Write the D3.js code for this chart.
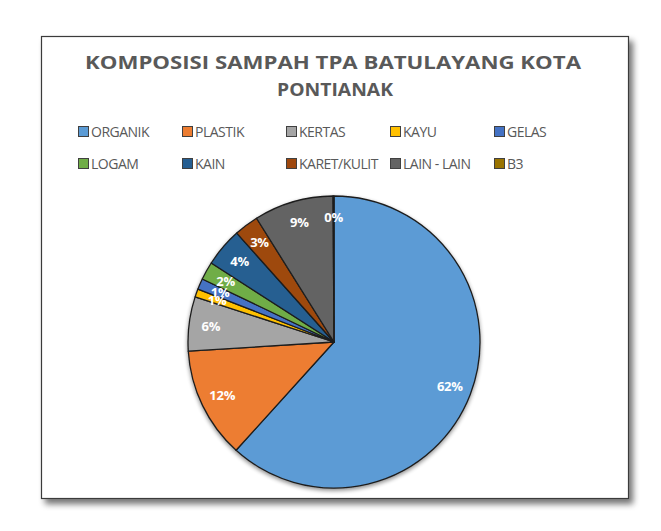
<!DOCTYPE html>
<html>
<head>
<meta charset="utf-8">
<script src="https://cdn.jsdelivr.net/npm/d3@7"></script>
<style>
  html, body { margin: 0; padding: 0; background: #ffffff; }
  svg { display: block; }
</style>
</head>
<body>
<script>
// ---- data ----
const categories = ["ORGANIK", "PLASTIK", "KERTAS", "KAYU", "GELAS", "LOGAM", "KAIN", "KARET/KULIT", "LAIN - LAIN", "B3"];
const values = [61.7, 12.3, 6.0, 0.9, 1.2, 2.0, 4.3, 2.7, 8.8, 0.1];
const colors = ["#5B9BD5", "#ED7D31", "#A5A5A5", "#FFC000", "#4472C4", "#70AD47", "#255E91", "#9E480E", "#636363", "#997300"];
const titleLines = ["KOMPOSISI SAMPAH TPA BATULAYANG KOTA", "PONTIANAK"];

// ---- layout ----
const W = 661, H = 531;
const svg = d3.select("body").append("svg").attr("width", W).attr("height", H);
const defs = svg.append("defs");

// frame shadow
const fs = defs.append("filter").attr("id", "frameShadow").attr("x", "-5%").attr("y", "-5%").attr("width", "115%").attr("height", "115%");
fs.append("feGaussianBlur").attr("in", "SourceAlpha").attr("stdDeviation", 3).attr("result", "b");
fs.append("feOffset").attr("in", "b").attr("dx", 4).attr("dy", 5).attr("result", "o");
fs.append("feComponentTransfer").attr("in", "o").attr("result", "o2")
  .append("feFuncA").attr("type", "linear").attr("slope", 0.55);
const fm = fs.append("feMerge");
fm.append("feMergeNode").attr("in", "o2");
fm.append("feMergeNode").attr("in", "SourceGraphic");

// pie shadow
const ps = defs.append("filter").attr("id", "pieShadow").attr("x", "-10%").attr("y", "-10%").attr("width", "125%").attr("height", "125%");
ps.append("feGaussianBlur").attr("in", "SourceAlpha").attr("stdDeviation", 2).attr("result", "b");
ps.append("feOffset").attr("in", "b").attr("dx", 0).attr("dy", 2).attr("result", "o");
ps.append("feComponentTransfer").attr("in", "o").attr("result", "o2")
  .append("feFuncA").attr("type", "linear").attr("slope", 0.45);
const pm = ps.append("feMerge");
pm.append("feMergeNode").attr("in", "o2");
pm.append("feMergeNode").attr("in", "SourceGraphic");

// frame
svg.append("rect")
  .attr("x", 41.5).attr("y", 36.5).attr("width", 587).attr("height", 462)
  .attr("fill", "#ffffff").attr("stroke", "#3a3a3a").attr("stroke-width", 1.2)
  .attr("filter", "url(#frameShadow)");

// title
const titleFont = "'Open Sans', 'Liberation Sans', sans-serif";
svg.append("text")
  .attr("x", 333).attr("y", 69)
  .attr("text-anchor", "middle")
  .attr("font-family", titleFont).attr("font-weight", "bold").attr("font-size", 18.5)
  .attr("fill", "#595959")
  .attr("textLength", 496).attr("lengthAdjust", "spacingAndGlyphs")
  .text(titleLines[0]);
svg.append("text")
  .attr("x", 335).attr("y", 96)
  .attr("text-anchor", "middle")
  .attr("font-family", titleFont).attr("font-weight", "bold").attr("font-size", 18.5)
  .attr("fill", "#595959")
  .attr("textLength", 116).attr("lengthAdjust", "spacingAndGlyphs")
  .text(titleLines[1]);

// legend
const legCols = 5, legX0 = 78, legDX = 104, legY0 = 132, legDY = 32;
const leg = svg.append("g");
categories.forEach((c, i) => {
  const col = i % legCols, row = Math.floor(i / legCols);
  const x = legX0 + col * legDX, y = legY0 + row * legDY;
  leg.append("rect")
    .attr("x", x + 0.5).attr("y", y - 5.5).attr("width", 10).attr("height", 10)
    .attr("fill", colors[i]).attr("stroke", "#404040").attr("stroke-width", 1);
  leg.append("text")
    .attr("x", x + 13).attr("y", y + 5)
    .attr("font-family", titleFont).attr("font-size", 14)
    .attr("fill", "#595959")
    .attr("letter-spacing", -0.5)
    .text(c);
});

// pie
const cx = 334, cy = 342, R = 146;
const pie = d3.pie().sort(null).value(d => d)(values);
const arc = d3.arc().innerRadius(0).outerRadius(R);
const g = svg.append("g").attr("transform", `translate(${cx},${cy})`);
g.append("g").attr("filter", "url(#pieShadow)")
  .selectAll("path").data(pie).join("path")
  .attr("d", arc)
  .attr("fill", (d, i) => colors[i])
  .attr("stroke", "#1e1e1e").attr("stroke-width", 1.3)
  .attr("stroke-linejoin", "round");

const labelArc = d3.arc().innerRadius(R * 0.85).outerRadius(R * 0.85);
const total = d3.sum(values);
g.selectAll("text.lbl").data(pie).join("text")
  .attr("class", "lbl")
  .attr("transform", d => {
    const [x, y] = labelArc.centroid(d);
    return `translate(${x},${y})`;
  })
  .attr("text-anchor", "middle").attr("dy", "0.35em")
  .attr("font-family", titleFont).attr("font-weight", "bold").attr("font-size", 13)
  .attr("letter-spacing", -0.3)
  .attr("fill", "#ffffff")
  .text(d => Math.round(d.data / total * 100) + "%");
</script>
</body>
</html>
